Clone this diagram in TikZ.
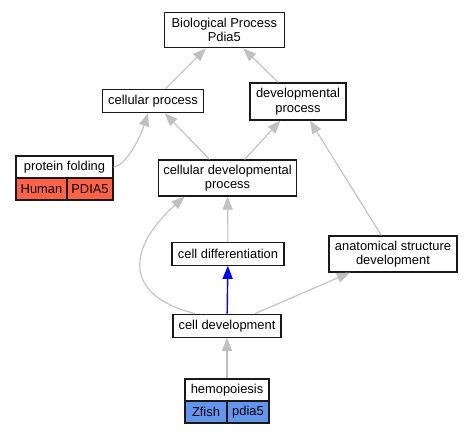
\documentclass[tikz,border=0pt]{standalone}
\usepackage{fontspec}
\setmainfont{Liberation Sans}
\usetikzlibrary{arrows.meta}
\definecolor{hc}{RGB}{255,99,71}
\definecolor{zc}{RGB}{100,149,237}
\definecolor{ec}{RGB}{192,192,192}
\tikzset{t/.style={draw=black!90,fill=white,line width=1.2pt,inner sep=0pt,align=center,
  font=\fontsize{12.9}{14.5}\selectfont},
 hb/.style={t,fill=hc},zb/.style={t,fill=zc},
 ed/.style={draw=ec,line width=1.1pt,-{Triangle[length=13pt,width=10pt]}},
 be/.style={ed,draw=blue,line width=1.4pt}}
\begin{document}
\begin{tikzpicture}[x=1pt,y=-1pt]
\useasboundingbox (0,0) rectangle (473,435);
\node[t,minimum width=120,minimum height=35.6] (bp) at (224.3,30) {Biological Process\\Pdia5};
\node[t,minimum width=101,minimum height=23] (cp) at (153,101) {cellular process};
\node[t,minimum width=96,minimum height=37] (dp) at (298,101.5) {developmental\\process};
\node[t,minimum width=97,minimum height=22] (pf) at (64.5,167) {protein folding};
\node[hb,minimum width=51,minimum height=22] (pfh) at (41.5,189) {Human};
\node[hb,minimum width=46,minimum height=22] (pfg) at (90,189) {PDIA5};
\node[t,minimum width=138.5,minimum height=36] (cdp) at (227.5,178) {cellular developmental\\process};
\node[t,minimum width=112,minimum height=22.5] (cd) at (228,254) {cell differentiation};
\node[t,minimum width=128,minimum height=36] (asd) at (393,254) {anatomical structure\\development};
\node[t,minimum width=108,minimum height=23] (cdev) at (227,325.7) {cell development};
\node[t,minimum width=84,minimum height=22] (hp) at (227,390) {hemopoiesis};
\node[zb,minimum width=42,minimum height=22] (hpz) at (206,412) {Zfish};
\node[zb,minimum width=42,minimum height=22] (hpg) at (248,412) {pdia5};
% edges, child to parent
\draw[ed] (cp)--(bp);
\draw[ed] (dp)--(bp);
\draw[ed] (pf.east) .. controls +(12,-1) and +(-8,25) .. ([xshift=-5pt]cp.south);
\draw[ed] (cdp)--(cp);
\draw[ed] (cdp)--(dp);
\draw[ed] (asd)--(dp);
\draw[ed] (cd)--(cdp);
\draw[ed] ([xshift=-32pt]cdev.north) .. controls +(-75,-19) and +(-55,49) .. ([xshift=-43pt]cdp.south);
\draw[be] (cdev)--(cd);
\draw[ed] (cdev)--(asd);
\draw[ed] (hp)--(cdev);
\end{tikzpicture}
\end{document}
